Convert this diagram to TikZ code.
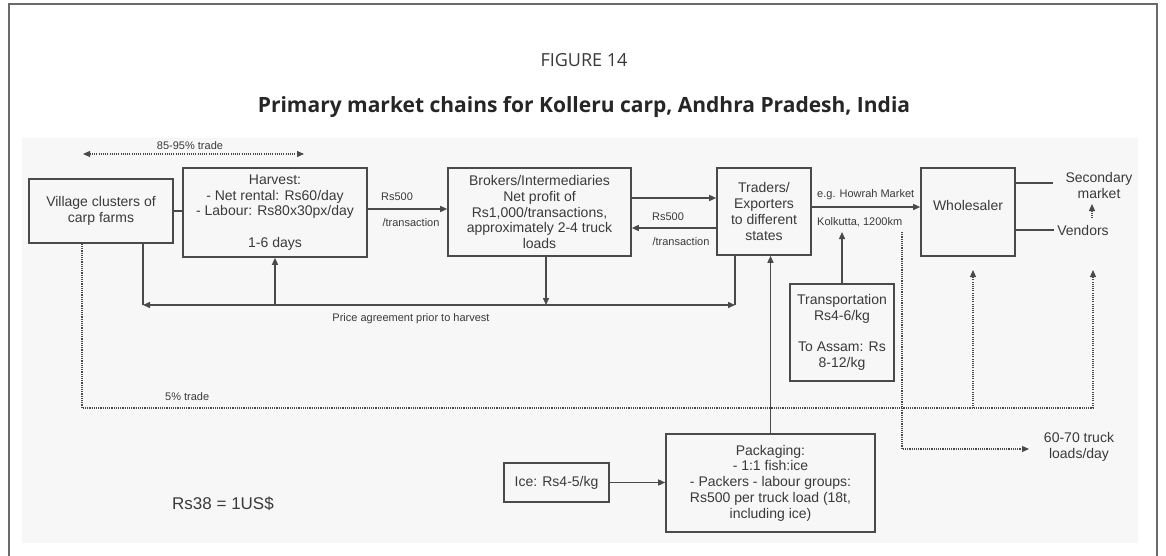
\documentclass[tikz,border=0pt]{standalone}
\usepackage{fontspec}
\setmainfont{Liberation Sans}
\newfontfamily\titlefont{Open Sans}
\usetikzlibrary{arrows.meta}
\definecolor{ln}{HTML}{4A4A4A}
\definecolor{tx}{HTML}{3A3A3A}
\definecolor{bg}{HTML}{F7F7F7}
\definecolor{fr}{HTML}{6A6A6A}
\begin{document}
\begin{tikzpicture}[x=1pt,y=-1pt,
  box/.style={draw=ln,line width=1.6pt,inner sep=0pt,align=center,text=tx,font=\fontsize{14}{15.7}\selectfont},
  lbl/.style={text=tx,inner sep=1pt,font=\fontsize{11}{13}\selectfont},
  txt/.style={text=tx,inner sep=1pt,align=center,font=\fontsize{14}{15.7}\selectfont},
  con/.style={draw=ln,line width=1.4pt},
  arr/.style={con,-{Triangle[length=7pt,width=6pt]}},
  dot/.style={draw=ln,line width=1.1pt,dash pattern=on 1.1pt off 1.1pt},
  dotarr/.style={dot,-{Triangle[length=7pt,width=6pt]}},
]
\useasboundingbox (0,0) rectangle (1166,556);
\fill[white] (0,0) rectangle (1166,556);
\fill[bg] (22,138) rectangle (1138,543);
\draw[draw=fr,line width=1.3pt] (9,556) -- (9,4) -- (1157,4) -- (1157,556);

\node[text=tx,font=\titlefont\fontsize{18}{21}\selectfont] (fig) at (584,60) {FIGURE 14};
\node[text=black!85,font=\titlefont\bfseries\fontsize{21}{25}\selectfont] (title) at (584,107) {Primary market chains for Kolleru carp, Andhra Pradesh, India};

% boxes
\node[box,minimum width=144pt,minimum height=64pt] (vil) at (101,211) {Village clusters of\\carp farms};
\node[box,minimum width=184pt,minimum height=89pt] (harv) at (275,212.5) {Harvest:\\- Net rental: Rs60/day\\- Labour: Rs80x30px/day\\[15.7pt]1-6 days};
\node[box,minimum width=183pt,minimum height=88pt] (brok) at (539.5,212) {Brokers/Intermediaries\\Net profit of\\Rs1,000/transactions,\\approximately 2-4 truck\\loads};
\node[box,minimum width=94pt,minimum height=87pt,font=\fontsize{14}{16.2}\selectfont] (trad) at (764,211.5) {Traders/\\Exporters\\to different\\states};
\node[box,minimum width=94pt,minimum height=88pt] (whol) at (968,212) {};
\node[txt] (wholt) at (968,205) {Wholesaler};
\node[box,minimum width=104pt,minimum height=97pt] (trans) at (842,332.5) {Transportation\\Rs4-6/kg\\[15.7pt]To Assam: Rs\\8-12/kg};
\node[box,minimum width=209pt,minimum height=98pt] (pack) at (770.5,483) {Packaging:\\- 1:1 fish:ice\\- Packers - labour groups:\\Rs500 per truck load (18t,\\including ice)};
\node[box,minimum width=105pt,minimum height=39pt] (ice) at (556.5,482.5) {Ice: Rs4-5/kg};

% free texts
\node[txt] (sec) at (1099,185.5) {Secondary\\market};
\node[txt] (vend) at (1083,230) {Vendors};
\node[txt] (trk) at (1079,447) {60-70 truck\\loads/day};
\node[text=tx,font=\fontsize{17}{20}\selectfont] (rate) at (223,504) {Rs38 = 1US\$};
\node[lbl] (l1a) at (397,197) {Rs500};
\node[lbl] (l1b) at (411,223) {/transaction};
\node[lbl] (l2a) at (668,217) {Rs500};
\node[lbl] (l2b) at (681,242) {/transaction};
\node[lbl,anchor=west] (l3a) at (816,195) {e.g. Howrah Market};
\node[lbl,anchor=west] (l3b) at (816,222) {Kolkutta, 1200km};
\node[lbl] (pa) at (411,319) {Price agreement prior to harvest};
\node[lbl,anchor=west] (l5) at (164,397) {5\% trade};
\node[lbl] (l85) at (190,146) {85-95\% trade};

% coordinates
\coordinate (t1) at (83,154);
\coordinate (t2) at (304,154);
\coordinate (pL) at (143,305);
\coordinate (pR) at (735,305);
\coordinate (tT) at (842,232);
\coordinate (kd) at (902,232);
\coordinate (kc) at (902,449);
\coordinate (kt) at (1029,449);
\coordinate (d0) at (82,408);
\coordinate (d1) at (1093,408);
\coordinate (dw) at (973,270);
\coordinate (dv) at (1093,270);
\coordinate (vs0) at (1092,218);
\coordinate (vs1) at (1092,204);

% connectors
\draw[dot,{Triangle[length=7pt,width=6pt]}-{Triangle[length=7pt,width=6pt]}] (t1) -- (t2);
\draw[con] (vil.east |- 0,211) -- (harv.west |- 0,211);
\draw[arr] (harv.east |- 0,209) -- (brok.west |- 0,209);
\draw[arr] (brok.east |- 0,198) -- (trad.west |- 0,198);
\draw[arr] (trad.west |- 0,228) -- (brok.east |- 0,228);
\draw[arr] (trad.east |- 0,207) -- (whol.west |- 0,207);
\draw[con,shorten >=11pt] (whol.east |- 0,183) -- (sec.west |- 0,183);
\draw[con,shorten >=2.5pt] (whol.east |- 0,230) -- (vend.west |- 0,230);
\draw[dotarr] (vs0) -- (vs1);

\draw[con] (vil.south -| pL) -- (pL);
\draw[con] (trad.south -| pR) -- (pR);
\draw[con,{Triangle[length=7pt,width=6pt]}-{Triangle[length=7pt,width=6pt]}] (pL) -- (pR);
\draw[arr] (pL -| harv.south) -- (harv.south);
\draw[arr] (brok.south -| 546,0) -- (pL -| 546,0);

\draw[arr] (pack.north) -- (trad.south -| pack.north);
\draw[arr] (trans.north) -- (tT);
\draw[arr] (ice.east) -- (pack.west |- ice.east);

\draw[dot] (vil.south -| d0) -- (d0) -- (d1);
\draw[dotarr] (d1) -- (dv);
\draw[dotarr] (dw |- d0) -- (dw);
\draw[dotarr] (kd) -- (kc) -- (kt);
\end{tikzpicture}
\end{document}
